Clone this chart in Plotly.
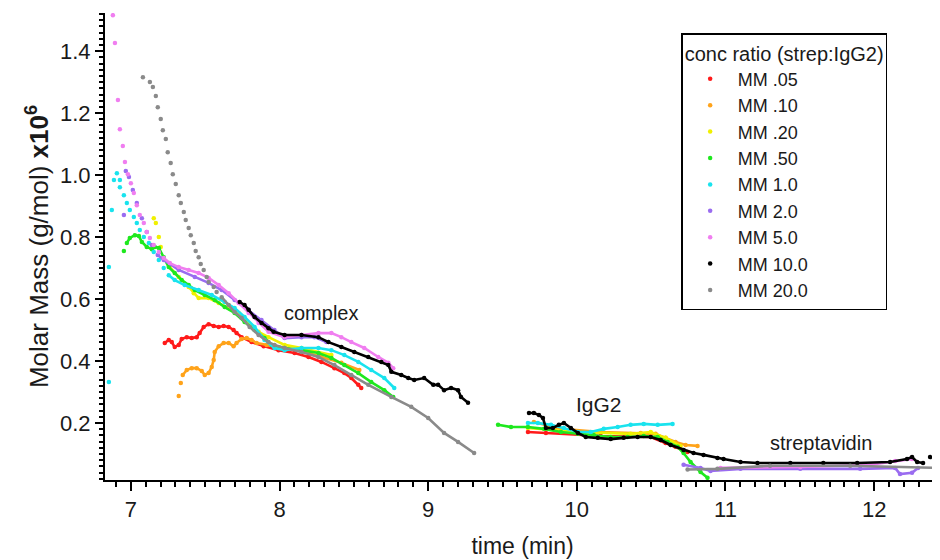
import plotly.graph_objects as go

# -----------------------------
# series names / colours
# -----------------------------
names = ["MM .05", "MM .10", "MM .20", "MM .50", "MM 1.0",
         "MM 2.0", "MM 5.0", "MM 10.0", "MM 20.0"]
colors = ["#ff1a1a", "#ffa31a", "#f0f000", "#1ee81e", "#19e3ee",
          "#9a6cf0", "#f07ef0", "#000000", "#8a8a8a"]

# -----------------------------
# data: time (min) and molar mass (x10^6 g/mol)
# "dots" = sparse leading points, "line" = dense parts (None splits peaks)
# -----------------------------
red_dots_t = []
red_dots_m = []
red_t = [7.228, 7.255, 7.275, 7.295, 7.322, 7.342, 7.376, 7.409, 7.443, 7.463,
         7.490, 7.523, 7.557, 7.591, 7.624, 7.658, 7.691, 7.711, 7.745, 7.812,
         7.893, 7.993, 8.101, 8.195, 8.282, 8.369, 8.436, 8.483, 8.530, 8.550,
         None, 9.671, 9.792, 10.161, 10.497, 10.597, 10.664, 10.745]
red_m = [0.458, 0.468, 0.461, 0.445, 0.452, 0.471, 0.477, 0.474, 0.477, 0.490,
         0.510, 0.519, 0.513, 0.510, 0.513, 0.510, 0.500, 0.490, 0.477, 0.461,
         0.448, 0.435, 0.426, 0.413, 0.397, 0.377, 0.361, 0.345, 0.323, 0.313,
         None, 0.171, 0.168, 0.158, 0.155, 0.135, 0.123, 0.106]

orange_dots_t = [7.322, 7.336]
orange_dots_m = [0.287, 0.329]
orange_t = [7.349, 7.376, 7.409, 7.443, 7.477, 7.497, 7.523, 7.544, 7.557, 7.564,
            7.591, 7.624, 7.658, 7.691, 7.711, 7.745, 7.779, 7.812, 7.846, 7.913,
            8.034, 8.148, 8.282, 8.416, 8.537,
            None, 9.711, 9.893, 10.161, 10.430, 10.530, 10.597, 10.664, 10.732, 10.812]
orange_m = [0.355, 0.371, 0.377, 0.377, 0.368, 0.355, 0.361, 0.381, 0.403, 0.429,
            0.448, 0.458, 0.458, 0.448, 0.458, 0.471, 0.474, 0.468, 0.458, 0.452,
            0.442, 0.432, 0.413, 0.394, 0.371,
            None, 0.203, 0.181, 0.171, 0.168, 0.165, 0.152, 0.139, 0.129, 0.126]

yellow_dots_t = [7.154, 7.168, 7.188, 7.201]
yellow_dots_m = [0.861, 0.845, 0.800, 0.768]
yellow_t = [7.262, 7.322, 7.389, 7.423, 7.456, 7.523, 7.591, 7.658, 7.725, 7.792,
            7.859, 7.926, 8.034, 8.148, 8.349,
            None, 9.671, 10.007, 10.362, 10.497, 10.597, 10.698]
yellow_m = [0.703, 0.671, 0.639, 0.619, 0.603, 0.603, 0.587, 0.571, 0.555, 0.523,
            0.494, 0.477, 0.452, 0.442, 0.419,
            None, 0.184, 0.171, 0.165, 0.171, 0.152, 0.126]

green_dots_t = [6.953]
green_dots_m = [0.755]
green_t = [6.973, 6.993, 7.027, 7.054, 7.074, 7.107, 7.141, 7.161, 7.188, 7.221,
           7.255, 7.295, 7.342, 7.389, 7.430, 7.497, 7.564, 7.631, 7.698, 7.765,
           7.832, 7.899, 7.946, 8.034, 8.148, 8.262, 8.349, 8.436, 8.530, 8.617,
           8.705, 8.765,
           None, 9.470, 9.557, 9.671, 9.779, 9.893, 10.007, 10.114, 10.228, 10.342,
           10.450, 10.544, 10.611, 10.678, 10.718, 10.765, 10.832, 10.879]
green_m = [0.781, 0.797, 0.806, 0.803, 0.784, 0.768, 0.761, 0.768, 0.765, 0.735,
           0.703, 0.684, 0.661, 0.645, 0.629, 0.613, 0.597, 0.574, 0.555, 0.526,
           0.500, 0.474, 0.452, 0.442, 0.435, 0.426, 0.410, 0.387, 0.361, 0.332,
           0.306, 0.284,
           None, 0.194, 0.187, 0.187, 0.181, 0.171, 0.165, 0.161, 0.155, 0.155,
           0.158, 0.155, 0.139, 0.123, 0.103, 0.074, 0.042, 0.023]

cyan_dots_t = [6.852, 6.852, 6.872, 6.886, 6.906, 6.926, 6.926, 6.953, 6.973, 6.993,
               7.020, 7.040, 7.060, 7.087, 7.121, 7.154, 7.188, 7.221]
cyan_dots_m = [0.332, 0.703, 0.887, 0.984, 1.006, 0.984, 0.961, 0.935, 0.910, 0.887,
               0.865, 0.845, 0.823, 0.800, 0.781, 0.752, 0.726, 0.700]
cyan_t = [7.255, 7.295, 7.362, 7.456, 7.544, 7.631, 7.698, 7.765, 7.832, 7.899,
          7.966, 8.034, 8.148, 8.262, 8.349, 8.436, 8.530, 8.617, 8.705, 8.772,
          None, 9.671, 9.738, 9.826, 9.913, 10.007, 10.094, 10.181, 10.275, 10.362,
          10.450, 10.544, 10.644]
cyan_m = [0.677, 0.661, 0.645, 0.629, 0.613, 0.590, 0.571, 0.542, 0.510, 0.468,
          0.442, 0.435, 0.442, 0.442, 0.435, 0.419, 0.397, 0.371, 0.345, 0.313,
          None, 0.200, 0.200, 0.194, 0.184, 0.171, 0.171, 0.181, 0.187, 0.194,
          0.197, 0.194, 0.197]

purple_dots_t = [6.953, 6.966, 6.987, 7.013, 7.040, 7.074, 7.107, 7.141]
purple_dots_m = [0.871, 1.013, 0.994, 0.952, 0.910, 0.861, 0.816, 0.774]
purple_t = [7.181, 7.221, 7.322, 7.430, 7.523, 7.611, 7.698, 7.792, 7.879, 7.966,
            8.034, 8.148, 8.235, 8.315,
            None, 10.718, 10.832, 10.899, 11.101, 11.503, 11.906, 12.141, 12.174,
            12.255, 12.295]
purple_m = [0.742, 0.726, 0.694, 0.671, 0.652, 0.629, 0.597, 0.565, 0.532, 0.500,
            0.474, 0.477, 0.477, 0.461,
            None, 0.065, 0.055, 0.045, 0.052, 0.052, 0.052, 0.055, 0.035,
            0.039, 0.055]

pink_dots_t = [6.879, 6.893, 6.913, 6.926, 6.946, 6.960, 6.980, 7.000, 7.020, 7.040,
               7.060, 7.087, 7.107, 7.128, 7.154, 7.188]
pink_dots_m = [1.516, 1.426, 1.242, 1.148, 1.094, 1.042, 1.003, 0.974, 0.942, 0.903,
               0.871, 0.845, 0.816, 0.797, 0.774, 0.752]
pink_t = [7.221, 7.262, 7.322, 7.389, 7.456, 7.523, 7.591, 7.658, 7.725, 7.792,
          7.859, 7.926, 8.034, 8.148, 8.262, 8.349, 8.416, 8.483, 8.570, 8.664,
          8.732, 8.765,
          None, 10.966, 11.503, 11.973, 12.141, 12.255]
pink_m = [0.732, 0.716, 0.703, 0.694, 0.684, 0.668, 0.645, 0.619, 0.587, 0.555,
          0.523, 0.494, 0.477, 0.484, 0.490, 0.490, 0.477, 0.461, 0.442, 0.413,
          0.394, 0.377,
          None, 0.055, 0.058, 0.065, 0.077, 0.084]

black_dots_t = [12.376, 12.409, 12.430]
black_dots_m = [0.090, 0.113, 0.129]
black_t = [7.732, 7.765, 7.792, 7.832, 7.879, 7.926, 7.960, 8.034, 8.148, 8.262,
           8.329, 8.416, 8.503, 8.597, 8.685, 8.732, 8.752, 8.819, 8.866, 8.906,
           8.973, 9.034, 9.067, 9.107, 9.154, 9.201, 9.221, 9.268,
           None, 9.678, 9.711, 9.745, 9.772, 9.792, 9.839, 9.879, 9.913, 9.960,
           10.007, 10.060, 10.141, 10.228, 10.315, 10.409, 10.497, 10.564, 10.631,
           10.718, 10.785, 10.852, 10.946, 10.987, 11.101, 11.215, 11.436, 11.658,
           11.886, 12.107, 12.221, 12.255, 12.289, 12.329]
black_m = [0.590, 0.581, 0.565, 0.542, 0.523, 0.506, 0.494, 0.484, 0.484, 0.477,
           0.461, 0.445, 0.429, 0.413, 0.397, 0.387, 0.365, 0.355, 0.345, 0.339,
           0.345, 0.323, 0.323, 0.306, 0.313, 0.306, 0.284, 0.265,
           None, 0.232, 0.232, 0.226, 0.216, 0.184, 0.184, 0.194, 0.200, 0.184,
           0.168, 0.155, 0.152, 0.148, 0.152, 0.155, 0.155, 0.145, 0.129,
           0.113, 0.103, 0.097, 0.087, 0.084, 0.074, 0.071, 0.071, 0.071,
           0.071, 0.074, 0.084, 0.090, 0.074, 0.071]

gray_dots_t = [7.081, 7.128, 7.148, 7.168, 7.181, 7.201, 7.215, 7.235, 7.248, 7.268,
               7.282, 7.302, 7.322, 7.336, 7.356, 7.369, 7.389, 7.403, 7.423, 7.436,
               7.456, 7.470, 7.490, 7.510, 7.523, 7.557, 7.577]
gray_dots_m = [1.316, 1.300, 1.284, 1.255, 1.219, 1.181, 1.145, 1.116, 1.074, 1.039,
               1.003, 0.971, 0.935, 0.910, 0.881, 0.855, 0.829, 0.806, 0.781, 0.755,
               0.735, 0.713, 0.694, 0.671, 0.655, 0.639, 0.623]
gray_t = [7.611, 7.658, 7.698, 7.745, 7.799, 7.859, 7.926, 7.966, 8.034, 8.148,
          8.262, 8.369, 8.483, 8.597, 8.752, 8.886, 9.000, 9.107, 9.201, 9.309,
          None, 10.745, 10.946, 11.300, 11.839, 12.443]
gray_m = [0.606, 0.581, 0.558, 0.539, 0.510, 0.484, 0.461, 0.452, 0.442, 0.429,
          0.413, 0.387, 0.355, 0.323, 0.284, 0.252, 0.216, 0.168, 0.139, 0.103,
          None, 0.050, 0.052, 0.062, 0.062, 0.055]

series = [
    (red_dots_t, red_dots_m, red_t, red_m),
    (orange_dots_t, orange_dots_m, orange_t, orange_m),
    (yellow_dots_t, yellow_dots_m, yellow_t, yellow_m),
    (green_dots_t, green_dots_m, green_t, green_m),
    (cyan_dots_t, cyan_dots_m, cyan_t, cyan_m),
    (purple_dots_t, purple_dots_m, purple_t, purple_m),
    (pink_dots_t, pink_dots_m, pink_t, pink_m),
    (black_dots_t, black_dots_m, black_t, black_m),
    (gray_dots_t, gray_dots_m, gray_t, gray_m),
]

fig = go.Figure()

for name, color, (dt, dm, lt, lm) in zip(names, colors, series):
    # dense part as a solid line
    fig.add_trace(go.Scatter(
        x=lt, y=lm, mode="lines", line=dict(color=color, width=2.6),
        legendgroup=name, showlegend=False, hoverinfo="skip",
    ))
    # every sampled point as a dot (this one carries the legend entry)
    fig.add_trace(go.Scatter(
        x=dt + lt, y=dm + lm, mode="markers", name=name, legendgroup=name,
        marker=dict(color=color, size=4.5),
    ))

fig.add_annotation(x=8.28, y=0.555, text="complex", showarrow=False,
                   font=dict(size=20))
fig.add_annotation(x=10.15, y=0.26, text="IgG2", showarrow=False,
                   font=dict(size=21))
fig.add_annotation(x=11.64, y=0.135, text="streptavidin", showarrow=False,
                   font=dict(size=20))

# page body keeps its default 8px margin, so the figure is a bit smaller
fig.update_layout(
    width=932, height=552,
    margin=dict(l=97, r=0, t=5, b=80),
    plot_bgcolor="white", paper_bgcolor="white",
    font=dict(family="Arial, Liberation Sans, sans-serif", color="#1a1a1a"),
    legend=dict(
        x=0.69, y=0.957, xanchor="left", yanchor="top",
        bgcolor="white", bordercolor="black", borderwidth=1.5,
        font=dict(size=18),
        itemwidth=45,
        title=dict(text="conc ratio (strep:IgG2)", font=dict(size=20)),
        tracegroupgap=0,
    ),
)

fig.update_xaxes(
    range=[6.826, 12.443], tickvals=[7, 8, 9, 10, 11, 12],
    showline=True, linecolor="black", linewidth=2,
    ticks="outside", ticklen=9, tickwidth=2, tickcolor="black",
    minor=dict(dtick=0.1, ticks="outside", ticklen=5, tickwidth=1.5,
               tickcolor="black", showgrid=False),
    showgrid=False, zeroline=False,
    tickfont=dict(size=22),
    title=dict(text="time (min)", font=dict(size=23), standoff=16),
)

fig.update_yaxes(
    range=[0.016, 1.523], tickvals=[0.2, 0.4, 0.6, 0.8, 1.0, 1.2, 1.4],
    tickformat=".1f",
    showline=True, linecolor="black", linewidth=2,
    ticks="outside", ticklen=8, tickwidth=2, tickcolor="black",
    minor=dict(dtick=0.02, ticks="outside", ticklen=4, tickwidth=1.5,
               tickcolor="black", showgrid=False),
    showgrid=False, zeroline=False,
    tickfont=dict(size=22),
    title=dict(text="Molar Mass (g/mol) <b>x10<sup>6</sup></b>",
               font=dict(size=26), standoff=4),
)

fig.write_html("out.html")
